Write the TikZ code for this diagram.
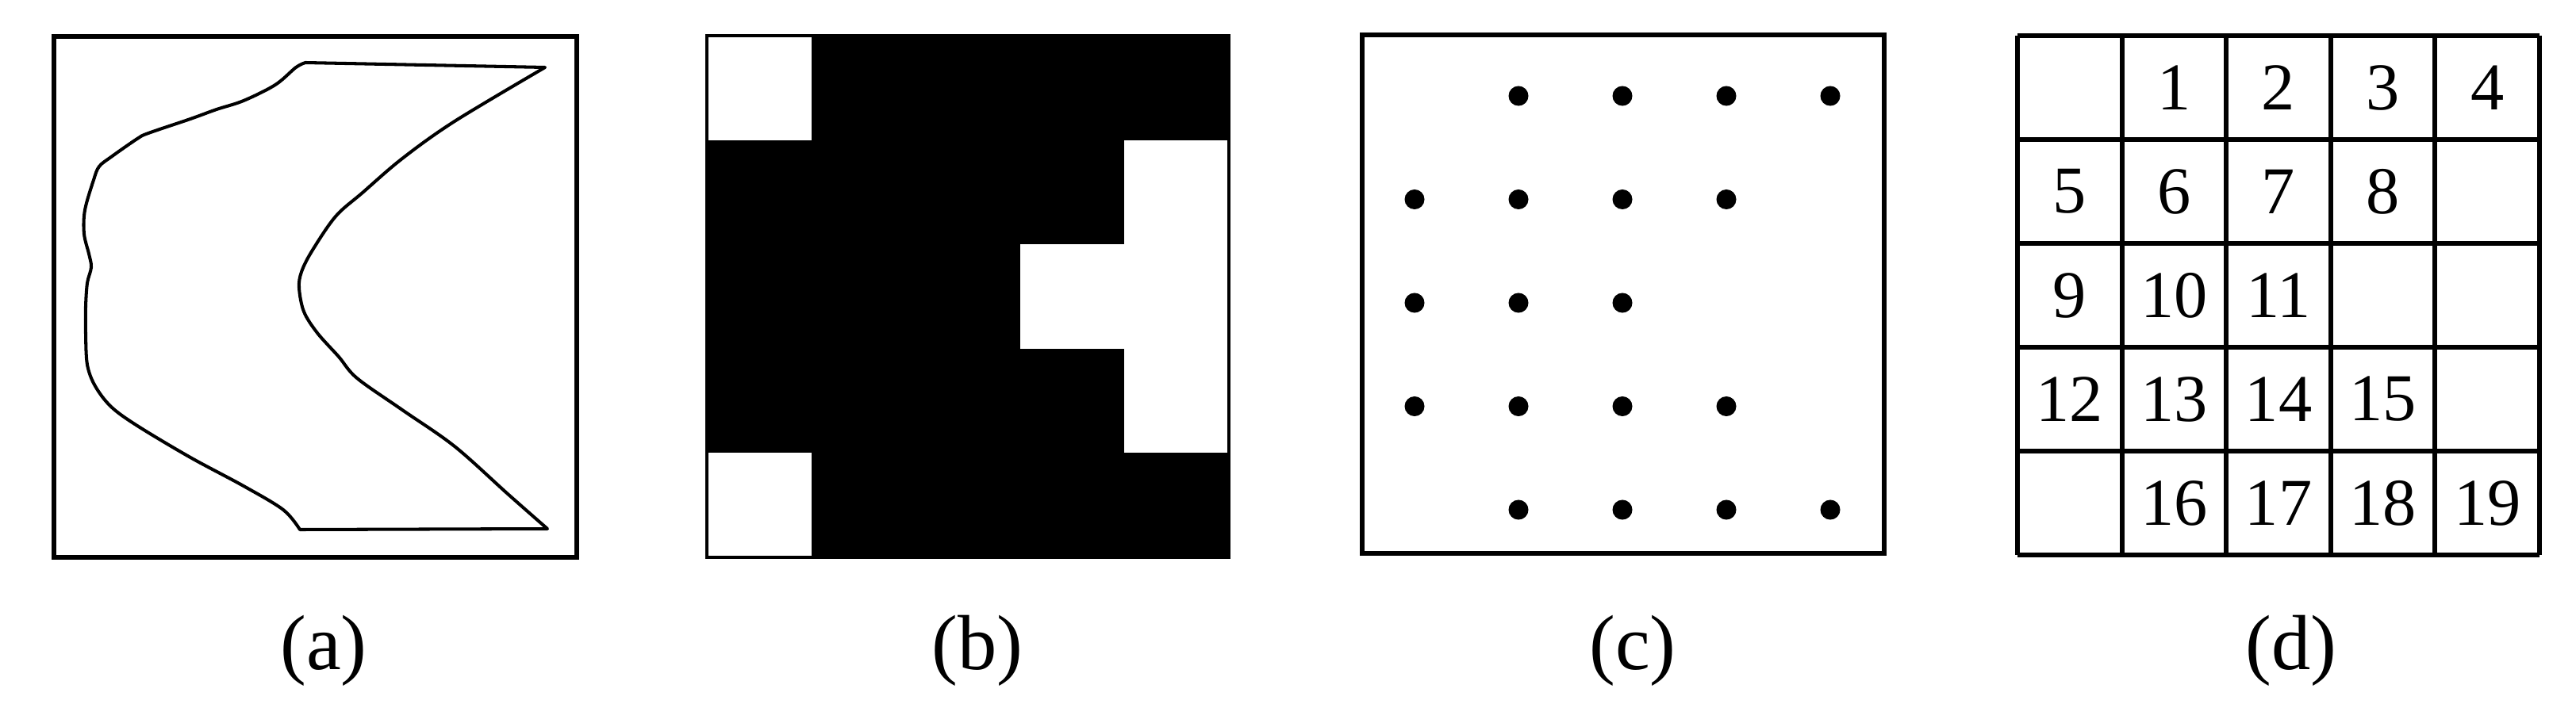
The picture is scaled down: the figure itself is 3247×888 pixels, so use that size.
\documentclass[tikz,border=0pt]{standalone}
\usepackage{fontspec}
\setmainfont{Liberation Serif}
\begin{document}
\begin{tikzpicture}[x=0.01cm,y=-0.01cm,
  frame/.style={line width=1.7pt},
  outline/.style={line width=1.15pt, line join=round},
  lbl/.style={font=\fontsize{28}{30}\selectfont, inner sep=0pt},
  num/.style={font=\fontsize{24}{26}\selectfont, inner sep=0pt},
  dotmark/.style={fill=black}]
\useasboundingbox (0,0) rectangle (3247,888);
% ---------- (a) ----------
\draw[frame] (68,46) rectangle (727,703);
\draw[outline] (385,79) -- (687,85)
  -- plot[smooth,tension=0.55] coordinates {(687,85) (573,153) (507,200) (457,243) (423,273) (393,317) (380,343) (377,363) (383,393) (400,420) (427,450) (450,477) (507,517) (573,563) (640,623) (690,667)}
  -- (378,668)
  -- plot[smooth,tension=0.55] coordinates {(378,668) (357,643) (307,613) (240,577) (173,537) (140,513) (120,487) (110,460) (108,420) (108,387) (110,357) (115,337) (112,320) (106,295) (107,265) (118,227) (125,210) (140,198) (173,175) (187,168) (240,150) (273,138) (307,127) (347,107) (373,85) (385,79)}
  -- cycle;
\node[lbl] (la) at (408,821) {(a)};
% ---------- (b) ----------
\fill[black] (891,45) rectangle (1549,703);
\foreach \r/\c in {0/0,4/0,1/4,2/4,3/4,2/3}{
  \fill[white] ({891+131.6*\c},{45+131.6*\r}) rectangle ({891+131.6*(\c+1)},{45+131.6*(\r+1)});
}
\draw[line width=1.4pt] (891,45) rectangle (1549,703);
\node[lbl] (lb) at (1232,821) {(b)};
% ---------- (c) ----------
\draw[frame] (1717,44) rectangle (2375,698);
\foreach \r/\c in {0/1,0/2,0/3,0/4,1/0,1/1,1/2,1/3,2/0,2/1,2/2,3/0,3/1,3/2,3/3,4/1,4/2,4/3,4/4}{
  \fill[dotmark] ({1783+131*\c},{121+130.5*\r}) circle[radius=0.125cm];
}
\node[lbl] (lc) at (2058,821) {(c)};
% ---------- (d) ----------
\foreach \k in {0,...,5}{
  \draw[frame] ({2543+131.6*\k},45) -- ({2543+131.6*\k},700);
  \draw[frame] (2543,{45+131*\k}) -- (3201,{45+131*\k});
}
\foreach \r/\c/\t in {0/1/1,0/2/2,0/3/3,0/4/4,1/0/5,1/1/6,1/2/7,1/3/8,2/0/9,2/1/10,2/2/11,3/0/12,3/1/13,3/2/14,3/3/15,4/1/16,4/2/17,4/3/18,4/4/19}{
  \node[num] (n\t) at ({2543+131.6*(\c+0.5)},{45+131*(\r+0.5)}) {\t};
}
\node[lbl] (ld) at (2888,821) {(d)};
\end{tikzpicture}
\end{document}
